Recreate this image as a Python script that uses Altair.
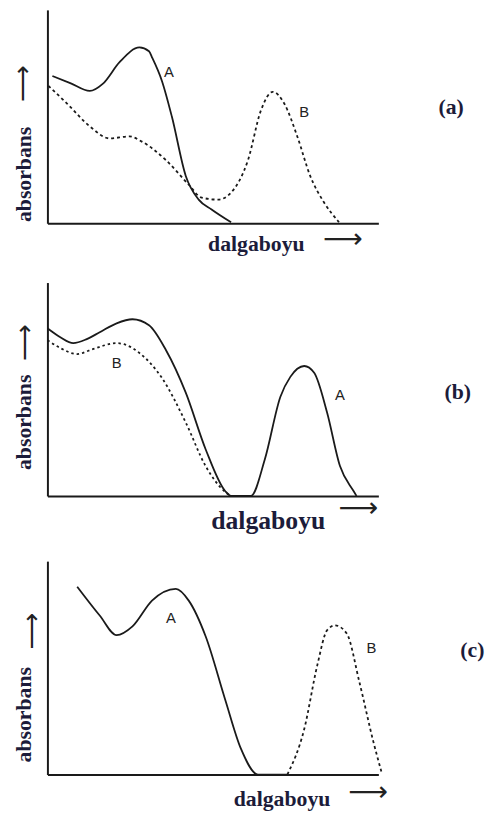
import altair as alt
import pandas as pd

# ---------------- Panel (a) ----------------
a_A_x = [1.5, 6.9, 12.8, 16.7, 21.8, 27.8, 30.7, 31.6, 34.6, 37.6, 41.8, 45.7, 49.6, 55.5]
a_A_y = [69.0, 65.7, 62.0, 65.3, 75.5, 82.4, 80.6, 77.8, 66.7, 50.0, 22.2, 11.1, 6.5, 0.5]
a_B_x = [0.3, 6.0, 12.8, 18.8, 24.8, 28.4, 35.8, 42.7, 46.6, 51.6, 55.5, 60.6, 64.5, 68.1, 71.6, 75.5, 79.4, 83.6, 88.1]
a_B_y = [64.4, 56.0, 45.4, 39.8, 40.7, 38.4, 29.6, 18.1, 12.0, 11.1, 14.4, 29.6, 52.8, 61.6, 56.0, 40.7, 22.2, 9.7, 0.5]
a_lab_text = ["A", "B"]
a_lab_x = [36.7, 77.6]
a_lab_y = [70.8, 52.3]

# ---------------- Panel (b) ----------------
b_A_x = [0, 3.9, 7.8, 11.9, 15.8, 20.9, 25.7, 30.7, 35.8, 41.8, 47.8, 53.7, 55.5, 61.5, 65.7, 70.4, 73.4, 77.6, 80.6, 84.5, 88.4, 92.5, 93.4]
b_A_y = [78.6, 74.4, 71.6, 73.5, 76.7, 80.9, 82.8, 80.0, 68.4, 48.4, 21.9, 2.3, 0, 0, 17.2, 46.5, 55.8, 60.9, 57.7, 39.1, 14.0, 2.3, 0]
b_B_x = [0, 3.9, 9.0, 13.7, 20.9, 25.7, 27.8, 34.6, 41.8, 47.8, 53.7, 55.5]
b_B_y = [73.0, 69.3, 66.5, 68.8, 71.6, 69.3, 67.0, 55.3, 34.4, 14.0, 1.9, 0]
b_lab_text = ["B", "A"]
b_lab_x = [20.9, 88.4]
b_lab_y = [62.3, 47.4]

# ---------------- Panel (c) ----------------
c_A_x = [9.0, 15.8, 20.9, 25.7, 31.6, 38.8, 42.7, 47.8, 53.7, 58.5, 63.6, 72.5]
c_A_y = [88.0, 74.5, 65.3, 69.4, 81.5, 87.0, 81.5, 64.8, 35.2, 12.0, 0, 0]
c_B_x = [72.5, 77.6, 81.5, 84.5, 86.9, 90.4, 94.3, 98.5, 100.9]
c_B_y = [0, 21.3, 50.9, 67.6, 69.9, 66.2, 43.1, 15.3, 1.4]
c_lab_text = ["A", "B"]
c_lab_x = [37.3, 97.9]
c_lab_y = [73.1, 59.3]

panel_tags = ["(a)", "(b)", "(c)"]
panel_tag_x = [122.0, 124.0, 128.4]
panel_tag_y = [54.6, 48.8, 58.3]

# arrow positions (data units of each panel): x-direction arrow and y-direction arrow
xarrow_x = [89.3, 94.0, 97.0]
xarrow_y = [-7.9, -6.0, -8.8]
yarrow_x = [-7.5, -6.6, -4.5]
yarrow_y = [65.3, 71.8, 67.1]

x_title = "dalgaboyu"
y_title = "absorbans"
x_title_fs = [22, 26, 22]
x_title_x = [211, 223, 237]
x_title_pad = [11, 12, 14]
y_title_y = [166, 141, 155]

INK = "#1a1a1a"
NAVY = "#1c1c3a"
W, H = 335, 216


def curve(i, xs, ys, dash=None):
    df = pd.DataFrame({"x": xs, "y": ys, "o": list(range(len(xs)))})
    kw = dict(interpolate="monotone", color=INK, strokeWidth=1.8)
    if dash:
        kw["strokeDash"] = dash
    return alt.Chart(df).mark_line(**kw).encode(
        x=alt.X("x:Q", scale=alt.Scale(domain=[0, 100], nice=False, zero=False),
                axis=alt.Axis(title=x_title, titleFontSize=x_title_fs[i], titleX=x_title_x[i],
                              titleAlign="center", titlePadding=x_title_pad[i])),
        y=alt.Y("y:Q", scale=alt.Scale(domain=[0, 100], nice=False),
                axis=alt.Axis(title=y_title, titleY=y_title_y[i], titleAlign="center")),
        order="o:Q",
    )


def labels(texts, xs, ys):
    df = pd.DataFrame({"t": texts, "x": xs, "y": ys})
    return alt.Chart(df).mark_text(font="Liberation Sans", fontSize=15, color="#222222").encode(
        x="x:Q", y="y:Q", text="t:N")


def tag(i):
    df = pd.DataFrame({"t": [panel_tags[i]], "x": [panel_tag_x[i]], "y": [panel_tag_y[i]]})
    return alt.Chart(df).mark_text(font="Liberation Serif", fontWeight="bold", fontSize=22,
                                   color=NAVY).encode(x="x:Q", y="y:Q", text="t:N")


def arrows(i):
    dx = pd.DataFrame({"t": ["\u27f6"], "x": [xarrow_x[i]], "y": [xarrow_y[i]]})
    dy = pd.DataFrame({"t": ["\u27f6"], "x": [yarrow_x[i]], "y": [yarrow_y[i]]})
    horiz = alt.Chart(dx).mark_text(font="DejaVu Sans", fontSize=28, color="#222222").encode(
        x="x:Q", y="y:Q", text="t:N")
    vert = alt.Chart(dy).mark_text(font="DejaVu Sans", fontSize=26, color="#222222", angle=270).encode(
        x="x:Q", y="y:Q", text="t:N")
    return horiz + vert


def panel(i, Ax, Ay, Bx, By, dash, lt, lx, ly):
    return alt.layer(curve(i, Ax, Ay), curve(i, Bx, By, dash), labels(lt, lx, ly),
                     tag(i), arrows(i)).properties(width=W, height=H)


pa = panel(0, a_A_x, a_A_y, a_B_x, a_B_y, [3, 3], a_lab_text, a_lab_x, a_lab_y)
pb = panel(1, b_A_x, b_A_y, b_B_x, b_B_y, [2.5, 3], b_lab_text, b_lab_x, b_lab_y)
pc = panel(2, c_A_x, c_A_y, c_B_x, c_B_y, [3, 3], c_lab_text, c_lab_x, c_lab_y)

chart = alt.vconcat(pa, pb, pc, spacing=28).properties(
    padding={"left": 9, "top": 5, "right": 5, "bottom": 5}
).configure(background="white").configure_view(stroke=None).configure_axis(
    ticks=False, labels=False, grid=False, domainColor=INK, domainWidth=2,
    titleFont="Liberation Serif", titleFontWeight="bold", titleFontSize=22,
    titleColor=NAVY, titlePadding=12,
)

chart.save("out.html", embed_options={"renderer": "svg", "actions": False})
